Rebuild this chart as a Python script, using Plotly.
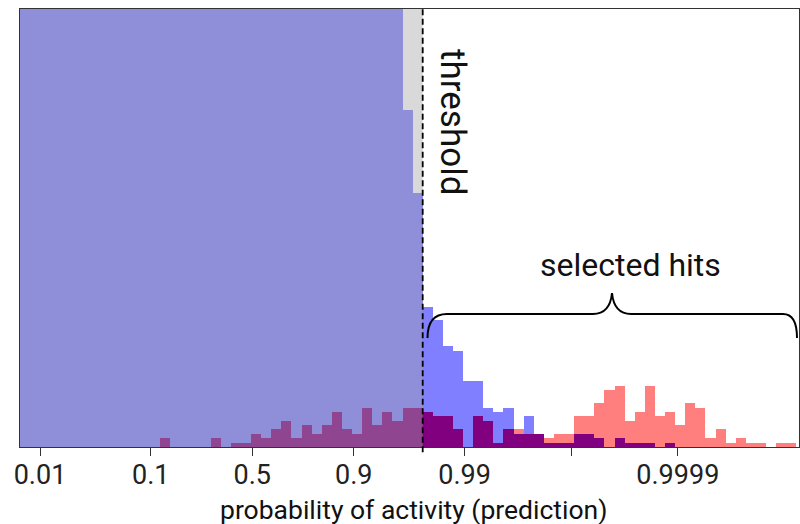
import numpy as np
import plotly.graph_objects as go

# ---------------- data ----------------
# Histogram bins on the logit scale: 77 bins, indexed relative to the threshold
# (bin k spans [threshold + k*width, threshold + (k+1)*width]).
threshold_prob = 0.9756
bin_width_logit = 0.2186
bin_index = list(range(-40, 37))

# counts of all screened compounds (blue); bins left of ~0.97 are off-scale
OFF = 250  # clipped at the top of the axes
blue_counts = [OFF] * 38 + [77, 58] + [
    32, 29, 23, 22, 15, 15, 9, 8, 9, 3, 7, 3, 1, 1, 1, 3, 3, 2, 0, 2, 1, 1, 1, 0, 1,
    0, 0, 0, 0, 0, 0, 0, 0, 0, 0, 0, 0]

# counts of known actives (red)
red_counts = [0] * 14 + [2] + [0] * 4 + [2, 0, 1, 1, 3, 2, 4, 6, 2, 5, 3, 5, 8, 4, 3, 9, 5, 8, 6, 9, 9] + [
    8, 7, 7, 4, 0, 7, 6, 1, 4, 4, 3, 3, 2, 3, 3, 7, 7, 10, 13, 14, 6, 8, 14, 7, 8,
    5, 10, 9, 2, 4, 1, 2, 1, 1, 0, 1, 1]

# overlap of the two histograms (purple)
overlap_counts = [0] * 14 + [2] + [0] * 4 + [2, 0, 1, 1, 3, 2, 4, 6, 2, 5, 3, 5, 8, 4, 3, 9, 5, 8, 6, 9, 9] + [
    8, 7, 7, 4, 0, 7, 6, 1, 4, 3, 3, 3, 1, 1, 1, 3, 3, 2, 0, 2, 1, 1, 1, 0, 1,
    0, 0, 0, 0, 0, 0, 0, 0, 0, 0, 0, 0]

tick_probs = [0.01, 0.1, 0.5, 0.9, 0.99, 0.999, 0.9999]
tick_labels = ["0.01", "0.1", "0.5", "0.9", "0.99", "", "0.9999"]

x_label = "probability of activity (prediction)"
threshold_label = "threshold"
hits_label = "selected hits"

# ---------------- helpers ----------------
def logit(p):
    p = np.asarray(p, dtype=float)
    return np.log(p / (1 - p))

thr = float(logit(threshold_prob))
centers = thr + (np.array(bin_index) + 0.5) * bin_width_logit

W, H = 800, 524
ML, MR, MT, MB = 20, 1, 9, 77
PW, PH = W - ML - MR, H - MT - MB

def px(xp):
    return (xp - ML) / PW

def py(yp):
    return (H - MB - yp) / PH

FONT = "Roboto"

fig = go.Figure()
for vals, col in [(blue_counts, "#7f7fff"), (red_counts, "#ff7f7f"), (overlap_counts, "#800080")]:
    fig.add_trace(go.Bar(
        x=centers, y=vals, width=bin_width_logit,
        marker=dict(color=col, line=dict(width=0)),
        hoverinfo="skip", showlegend=False,
    ))

# grey shading of the region below the threshold
fig.add_shape(type="rect", xref="x", yref="paper", x0=-10, x1=thr, y0=0, y1=1,
              fillcolor="rgba(164,164,164,0.42)", line=dict(width=0), layer="above")
# threshold line
fig.add_shape(type="line", xref="x", yref="paper", x0=thr, x1=thr, y0=-0.012, y1=1,
              line=dict(color="black", width=1.8, dash="6px,3.5px"), layer="above")

# curly brace over the selected hits
pts = {
    "a": (427.5, 338), "ac": (427.5, 314), "b": (447, 314),
    "c": (593, 314), "cc": (610, 314), "tip": (612, 293),
    "dc": (614, 314), "d": (631, 314), "e": (783, 314),
    "ec": (797, 314), "f": (797, 338),
}
P = {k: (px(v[0]), py(v[1])) for k, v in pts.items()}
def s(k):
    return f"{P[k][0]:.5f},{P[k][1]:.5f}"
path = (f"M {s('a')} Q {s('ac')} {s('b')} L {s('c')} Q {s('cc')} {s('tip')} "
        f"Q {s('dc')} {s('d')} L {s('e')} Q {s('ec')} {s('f')}")
fig.add_shape(type="path", xref="paper", yref="paper", path=path,
              line=dict(color="black", width=2), layer="above")

fig.add_annotation(text=hits_label, xref="paper", yref="paper", x=px(630), y=py(265),
                   xanchor="center", yanchor="middle", showarrow=False,
                   font=dict(family=FONT, size=32, color="#111"))
fig.add_annotation(text=threshold_label, xref="paper", yref="paper", x=px(452), y=py(122),
                   xanchor="center", yanchor="middle", showarrow=False, textangle=90,
                   font=dict(family=FONT, size=35, color="#111"))
fig.add_annotation(text=x_label, xref="paper", yref="paper", x=px(413.5), y=py(510),
                   xanchor="center", yanchor="middle", showarrow=False,
                   font=dict(family=FONT, size=26.5, color="#111"))

# x-range: threshold sits at 422.7 px, 46.2 px per logit unit
scale = 46.2
x_left = thr - (422.7 - ML) / scale
x_right = x_left + PW / scale

fig.update_layout(
    width=W, height=H,
    margin=dict(l=ML, r=MR, t=MT, b=MB, pad=0),
    paper_bgcolor="white", plot_bgcolor="white",
    barmode="overlay", bargap=0,
    font=dict(family=FONT, color="#222"),
    xaxis=dict(range=[x_left, x_right], tickmode="array",
               tickvals=list(logit(tick_probs)), ticktext=tick_labels,
               ticks="outside", ticklen=8, tickwidth=1, tickcolor="#333",
               tickfont=dict(family=FONT, size=27, color="#222"),
               ticklabelstandoff=-4,
               showline=True, linecolor="#333", linewidth=1, mirror=True,
               showgrid=False, zeroline=False),
    yaxis=dict(range=[0, 100], showticklabels=False, ticks="",
               showline=True, linecolor="#333", linewidth=1, mirror=True,
               showgrid=False, zeroline=False),
)

fig.write_html("out.html")
